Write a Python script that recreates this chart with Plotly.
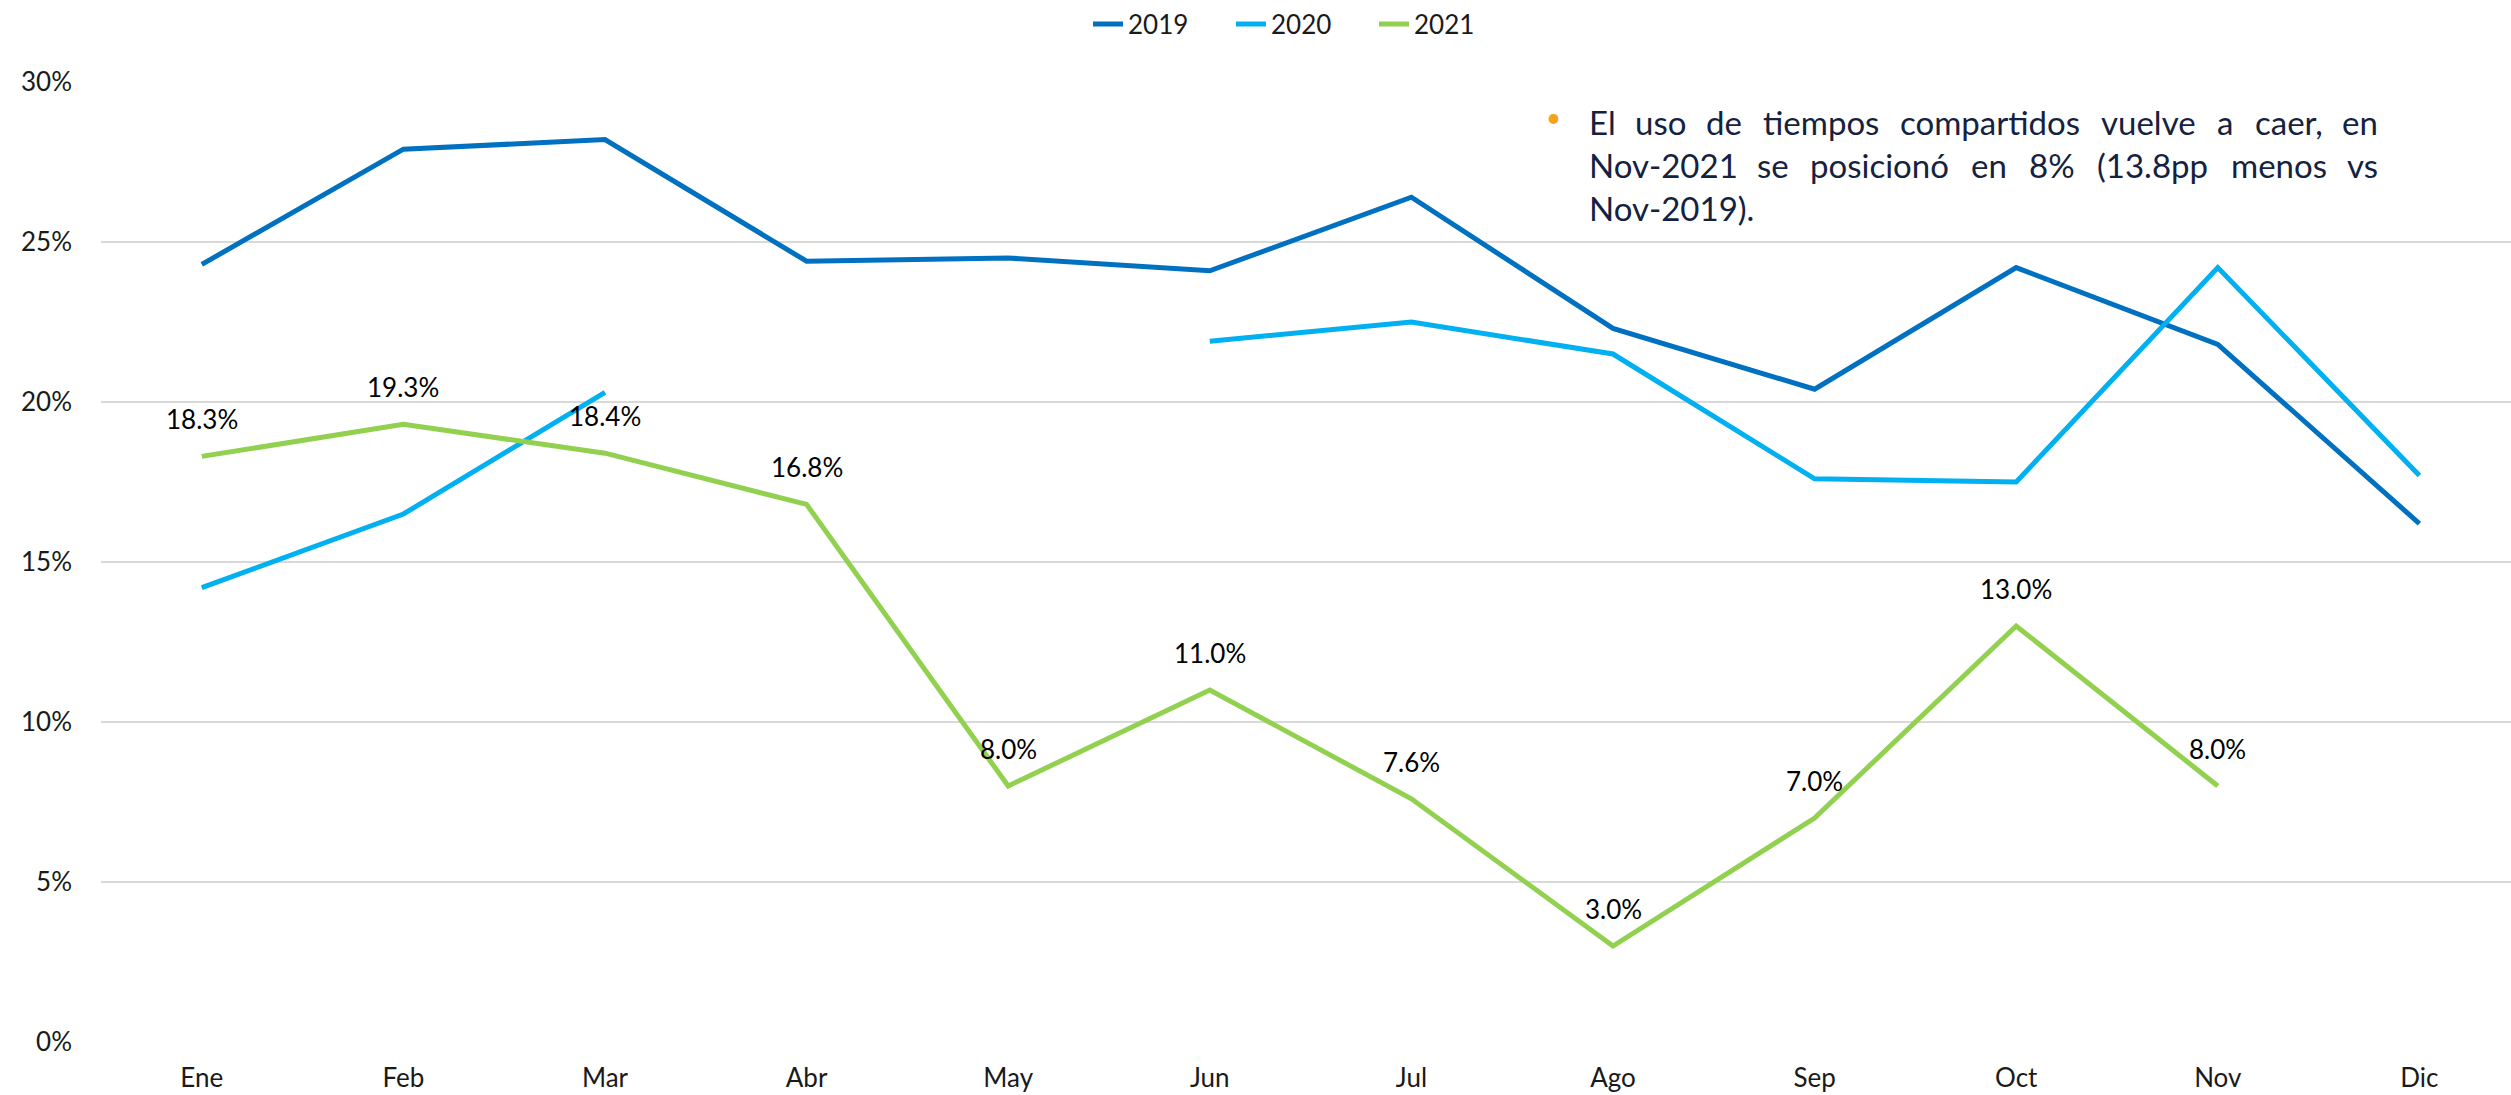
import plotly.graph_objects as go

months = ["Ene", "Feb", "Mar", "Abr", "May", "Jun", "Jul", "Ago", "Sep", "Oct", "Nov", "Dic"]
v2019 = [0.243, 0.279, 0.282, 0.244, 0.245, 0.241, 0.264, 0.223, 0.204, 0.242, 0.218, 0.162]
v2020 = [0.142, 0.165, 0.203, None, None, 0.219, 0.225, 0.215, 0.176, 0.175, 0.242, 0.177]
v2021 = [0.183, 0.193, 0.184, 0.168, 0.080, 0.110, 0.076, 0.030, 0.070, 0.130, 0.080, None]
y_ticks = [0, 0.05, 0.10, 0.15, 0.20, 0.25, 0.30]
y_tick_labels = ["0%", "5%", "10%", "15%", "20%", "25%", "30%"]

note_lines = [
    "El uso de tiempos compartidos vuelve a caer, en",
    "Nov-2021 se posicionó en 8% (13.8pp menos vs",
    "Nov-2019).",
]

W_FIG, H_FIG = 2511, 1095
L, R, T, B = 101, 0, 82, 53
PW, PH = W_FIG - L - R, H_FIG - T - B
CAT_W = 201.6

def px_x(p):
    return (p - L) / PW

def px_y(p):
    return 1 - (p - T) / PH

FONT = "Lato, 'Open Sans', sans-serif"
NOTE_SIZE = 33

# approximate Lato advance widths (em) used to justify the note text
CW = {c: w for c, w in zip("abcdefghijklmnopqrstuvwxyz",
      [.51, .57, .47, .57, .53, .33, .51, .57, .24, .24, .5, .24, .86,
       .57, .57, .57, .57, .37, .42, .35, .57, .51, .77, .49, .51, .45])}
CW.update({"E": .58, "N": .75, "-": .35, "(": .3, ")": .3, ".": .23, ",": .23,
           "%": .8, "ó": .57})
for d in "0123456789":
    CW[d] = .58

def word_w(w):
    return sum(CW.get(c, .55) for c in w) * NOTE_SIZE

NOTE_LEFT, NOTE_RIGHT = 1587, 2380
line_mid_y = [122, 165, 208]

fig = go.Figure()
for name, vals, col in [("2019", v2019, "#0070C0"), ("2020", v2020, "#00B0F0"), ("2021", v2021, "#92D050")]:
    fig.add_trace(go.Scatter(x=months, y=vals, name=name, mode="lines",
                             line=dict(color=col, width=5), connectgaps=False))

annotations = []
for m, v in zip(months, v2021):
    if v is None:
        continue
    annotations.append(dict(x=m, y=v, xref="x", yref="y", text=f"{v*100:.1f}%",
                            showarrow=False, yshift=37, xanchor="center", yanchor="middle",
                            font=dict(family=FONT, size=26, color="#000000")))

for li, (line, ym) in enumerate(zip(note_lines, line_mid_y)):
    words = line.split(" ")
    widths = [word_w(w) for w in words]
    justify = li < len(note_lines) - 1 and len(words) > 1
    gap = (NOTE_RIGHT - NOTE_LEFT - sum(widths)) / (len(words) - 1) if justify else 0.25 * NOTE_SIZE
    xcur = NOTE_LEFT
    for i, (w, ww) in enumerate(zip(words, widths)):
        if i == 0:
            xa, anchor = NOTE_LEFT, "left"
        elif justify and i == len(words) - 1:
            xa, anchor = NOTE_RIGHT, "right"
        else:
            xa, anchor = xcur + ww / 2, "center"
        annotations.append(dict(x=px_x(xa), y=px_y(ym), xref="paper", yref="paper", text=w,
                                showarrow=False, xanchor=anchor, yanchor="middle",
                                font=dict(family=FONT, size=NOTE_SIZE, color="#15223F")))
        xcur += ww + gap
annotations.append(dict(x=px_x(1553), y=px_y(117), xref="paper", yref="paper", text="•",
                        showarrow=False, xanchor="center", yanchor="middle",
                        font=dict(family=FONT, size=26, color="#F7A21B")))

fig.update_layout(
    width=W_FIG, height=H_FIG,
    margin=dict(l=L, r=R, t=T, b=B, autoexpand=False),
    paper_bgcolor="white", plot_bgcolor="white",
    font=dict(family=FONT, size=26, color="#1a1a1a"),
    showlegend=True,
    legend=dict(orientation="h", x=px_x(1088), y=px_y(24), xanchor="left", yanchor="middle",
                font=dict(family=FONT, size=26, color="#1a1a1a"),
                entrywidth=98, entrywidthmode="pixels",
                tracegroupgap=0, bgcolor="rgba(0,0,0,0)"),
    xaxis=dict(type="category", categoryorder="array", categoryarray=months,
               range=[-0.5, -0.5 + PW / CAT_W], showgrid=False, zeroline=False,
               showline=False, ticks="", ticklabelstandoff=18,
               tickfont=dict(family=FONT, size=26, color="#1a1a1a")),
    yaxis=dict(range=[0, 0.30], tickvals=y_ticks, ticktext=y_tick_labels,
               showgrid=True, gridcolor="#D9D9D9", gridwidth=2, zeroline=False,
               showline=False, ticks="", ticklabelstandoff=28,
               tickfont=dict(family=FONT, size=26, color="#1a1a1a")),
    annotations=annotations,
)
fig.write_html("out.html", config={"displayModeBar": False},
               post_script="document.body.style.margin='0';document.body.style.overflow='hidden';")
